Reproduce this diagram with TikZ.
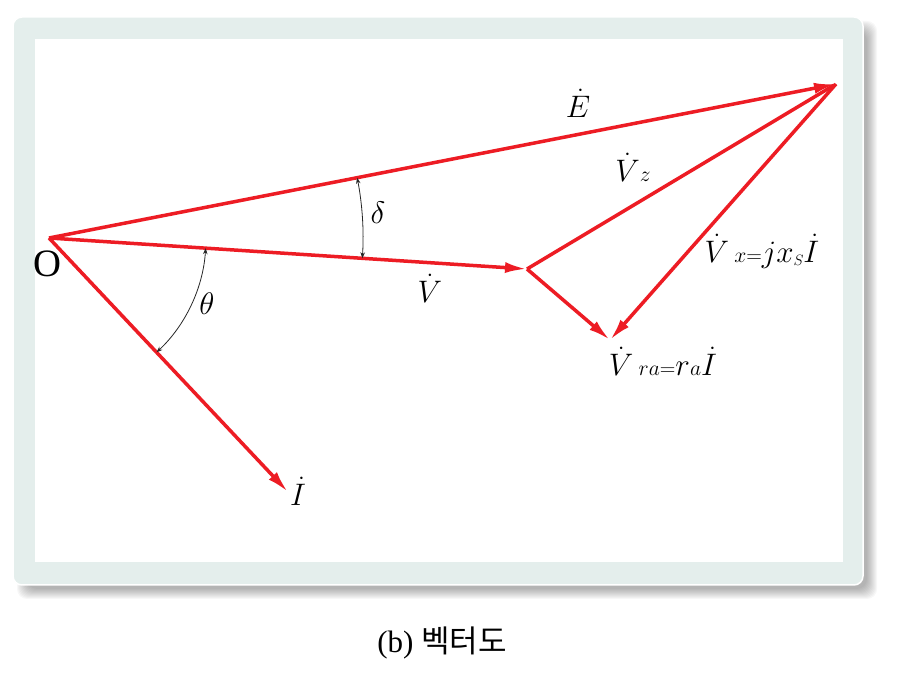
\documentclass[tikz,border=0pt]{standalone}
\usepackage{fontspec}
\setmainfont{Liberation Serif}
\newfontfamily\krfont{Noto Sans CJK KR}
\usetikzlibrary{arrows.meta}
\definecolor{vred}{HTML}{ED1C24}
\definecolor{framec}{HTML}{E4EEEC}
\newcommand\msz[2]{\mbox{\fontsize{#1}{#1}\selectfont$#2$}}
\begin{document}
\begin{tikzpicture}[x=1pt,y=1pt,
  vec/.style={draw=vred, line width=3.5pt, -{Latex[length=22pt,width=11pt]}},
  seg/.style={draw=vred, line width=3.5pt},
  ang/.style={draw=black!85, line width=0.8pt, {Stealth[length=6pt,width=4.5pt]}-{Stealth[length=6pt,width=4.5pt]}},
  lab/.style={font=\fontsize{24.88}{30}\selectfont, inner sep=0pt, scale=1.25},
  captext/.style={font=\fontsize{31}{36}\selectfont, inner sep=0pt}
]
\useasboundingbox (0,0) rectangle (899,682);
% shadow
\foreach \d in {-5,...,5}
  \fill[black, opacity=0.03, rounded corners=10pt] (22+\d,88+\d) rectangle (872-\d,656-\d);
% frame
\fill[framec, draw=white, line width=1.5pt, rounded corners=9pt] (13,97) rectangle (863,665);
\fill[white] (35,120) rectangle (843,643);
% points
\coordinate (O) at (49,444);
\coordinate (E) at (836,598);
\coordinate (V) at (527,413);
\coordinate (P) at (610,342);
\coordinate (I) at (288,190);
% vectors
\draw[seg, shorten >=2pt] (V) -- (E);
\draw[vec] (E) -- (P);
\draw[vec] (V) -- (P);
\draw[vec] (O) -- (E);
\draw[vec] (O) -- (V);
\draw[vec] (O) -- (I);
% angle arcs
\draw[ang] ([shift={(-3.71:314)}]O) arc[start angle=-3.71, end angle=11.07, radius=314pt];
\draw[ang] ([shift={(-46.74:157)}]O) arc[start angle=-46.74, end angle=-3.71, radius=157pt];
% labels
\node[lab] (lE) at (578,579) {$\dot{E}$};
\node[lab] (lV) at (430,394) {$\dot{V}$};
\node[lab] (lVz) at (633,515) {$\dot{V}\msz{17.28}{z}$};
\node[lab] (lVx) at (762,431) {$\dot{V}\,\msz{17.28}{x{=}}jx\raisebox{-3pt}{\msz{12}{S}}\dot{I}$};
\node[lab] (lVra) at (663,321) {$\dot{V}\,\msz{17.28}{ra{=}}r\msz{17.28}{a}\dot{I}$};
\node[lab] (lI) at (298,191) {$\dot{I}$};
\node[lab, scale=1] (lO) at (47,418) {\fontsize{31}{37}\selectfont O};
\node[lab] (lth) at (207,378) {$\theta$};
\node[lab] (lde) at (378,469) {$\delta$};
% caption
\node[captext] (caption) at (442,39) {(b) {\krfont 벡터도}};
\end{tikzpicture}
\end{document}
